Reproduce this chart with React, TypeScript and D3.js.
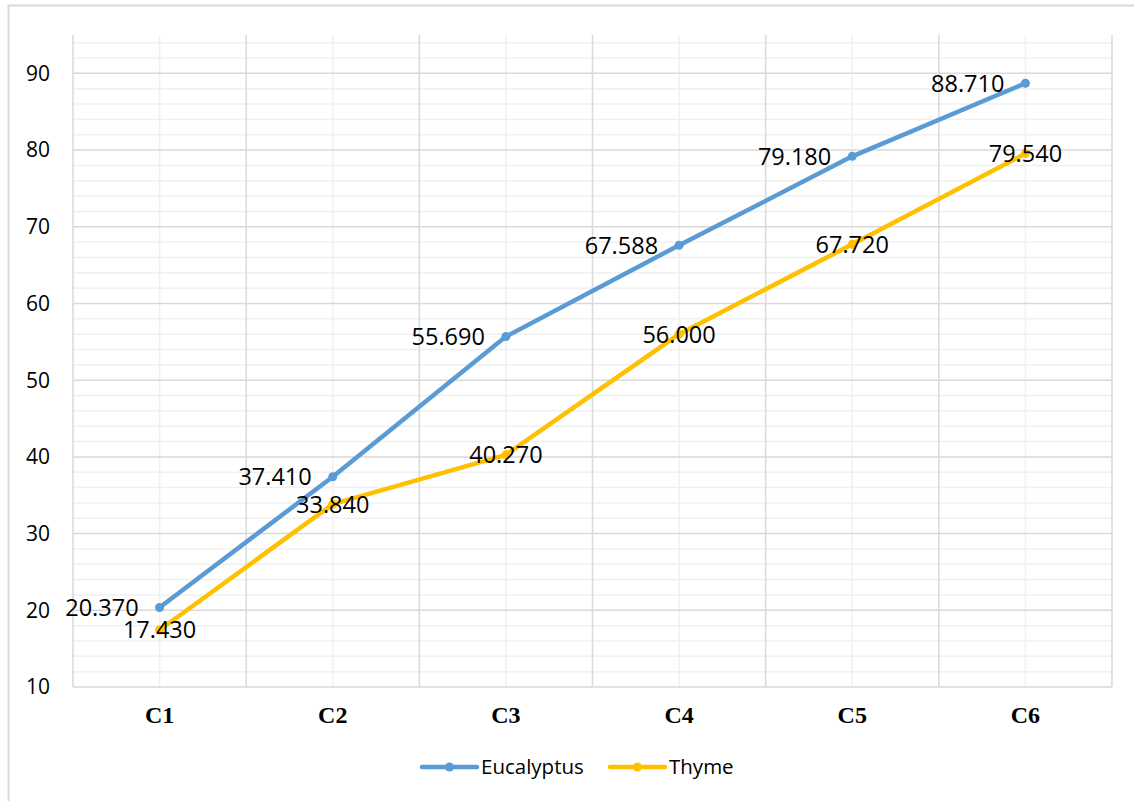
import React from "react";
import * as d3 from "d3";

const categories = ["C1", "C2", "C3", "C4", "C5", "C6"];
const eucalyptus = [20.37, 37.41, 55.69, 67.588, 79.18, 88.71];
const thyme = [17.43, 33.84, 40.27, 56.0, 67.72, 79.54];
const yMajorTicks = [10, 20, 30, 40, 50, 60, 70, 80, 90];
const seriesNames = ["Eucalyptus", "Thyme"];

const W = 1134;
const H = 801;
const plot = { left: 73, right: 1112, top: 35, bottom: 687 };
const BLUE = "#5B9BD5";
const GOLD = "#FFC000";
const SANS = "'Open Sans', 'Noto Sans', sans-serif";

export default function App() {
  const x = d3
    .scaleBand<string>()
    .domain(categories)
    .range([plot.left, plot.right])
    .padding(0);
  const cx = (c: string) => (x(c) as number) + x.bandwidth() / 2;
  const y = d3.scaleLinear().domain([10, 95]).range([plot.bottom, plot.top]);

  const minorTicks = d3.range(12, 95, 2).filter((v) => v % 10 !== 0);
  const line = d3
    .line<number>()
    .x((_, i) => cx(categories[i]))
    .y((v) => y(v));

  const bandEdges = [...categories.map((c) => x(c) as number), plot.right];
  const fmt = d3.format(".3f");

  return (
    <svg
      width={W}
      height={H}
      style={{ position: "absolute", left: 0, top: 0, background: "#fff" }}
    >
      {/* chart frame */}
      <rect x={8.5} y={5.5} width={1140} height={820} fill="#fff" stroke="#d9d9d9" strokeWidth={2} />

      {/* minor horizontal grid */}
      {minorTicks.map((v) => (
        <line key={"mh" + v} x1={plot.left} x2={plot.right} y1={y(v)} y2={y(v)} stroke="#f0f0f0" strokeWidth={1.5} />
      ))}
      {/* minor vertical grid at category centres */}
      {categories.map((c) => (
        <line key={"mv" + c} x1={cx(c)} x2={cx(c)} y1={plot.top} y2={plot.bottom} stroke="#f0f0f0" strokeWidth={1.5} />
      ))}
      {/* major horizontal grid */}
      {yMajorTicks.map((v) => (
        <line key={"h" + v} x1={plot.left} x2={plot.right} y1={y(v)} y2={y(v)} stroke="#d9d9d9" strokeWidth={1.5} />
      ))}
      {/* major vertical grid at category edges */}
      {bandEdges.map((ex, i) => (
        <line key={"v" + i} x1={ex} x2={ex} y1={plot.top} y2={plot.bottom} stroke="#d9d9d9" strokeWidth={1.5} />
      ))}

      {/* y tick labels */}
      {yMajorTicks.map((v) => (
        <text key={"yt" + v} x={50} y={y(v)} dy="0.35em" textAnchor="end" fontFamily={SANS} fontSize={21} fill="#000">
          {v}
        </text>
      ))}

      {/* category labels */}
      {categories.map((c) => (
        <text key={"xt" + c} x={cx(c)} y={723} textAnchor="middle" fontFamily="'Liberation Serif', 'Times New Roman', serif" fontWeight="bold" fontSize={24} fill="#000">
          {c}
        </text>
      ))}

      {/* series lines */}
      <path d={line(eucalyptus) as string} fill="none" stroke={BLUE} strokeWidth={4.5} strokeLinejoin="round" strokeLinecap="round" />
      <path d={line(thyme) as string} fill="none" stroke={GOLD} strokeWidth={4.5} strokeLinejoin="round" strokeLinecap="round" />
      {eucalyptus.map((v, i) => (
        <circle key={"ep" + i} cx={cx(categories[i])} cy={y(v)} r={4.5} fill={BLUE} />
      ))}
      {thyme.map((v, i) => (
        <circle key={"tp" + i} cx={cx(categories[i])} cy={y(v)} r={4.5} fill={GOLD} />
      ))}

      {/* data labels */}
      {eucalyptus.map((v, i) => (
        <text key={"el" + i} x={cx(categories[i]) - 21} y={y(v)} dy="0.36em" textAnchor="end" fontFamily={SANS} fontSize={23.5} fill="#000">
          {fmt(v)}
        </text>
      ))}
      {thyme.map((v, i) => (
        <text key={"tl" + i} x={cx(categories[i])} y={y(v)} dy="0.36em" textAnchor="middle" fontFamily={SANS} fontSize={23.5} fill="#000">
          {fmt(v)}
        </text>
      ))}

      {/* legend */}
      {seriesNames.map((name, i) => {
        const lx = [422, 610][i];
        const color = [BLUE, GOLD][i];
        return (
          <g key={"lg" + name}>
            <line x1={lx} x2={lx + 55} y1={767} y2={767} stroke={color} strokeWidth={4.5} strokeLinecap="round" />
            <circle cx={lx + 27.5} cy={767} r={4.5} fill={color} />
            <text x={lx + 59} y={767} dy="0.35em" fontFamily={SANS} fontSize={20.5} fill="#000">
              {name}
            </text>
          </g>
        );
      })}
    </svg>
  );
}
